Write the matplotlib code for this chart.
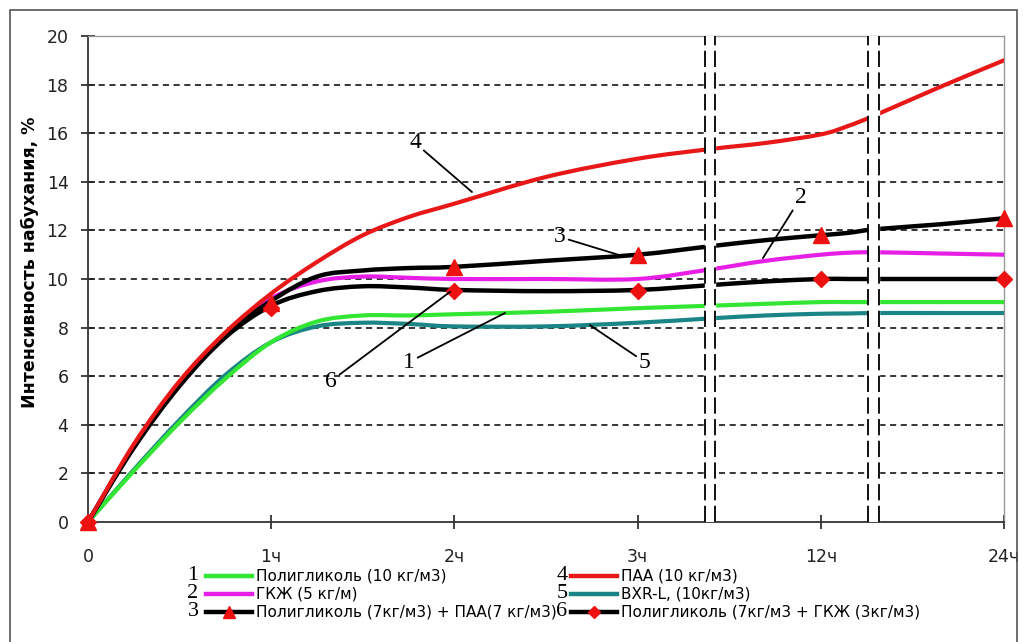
import matplotlib.pyplot as plt
from matplotlib.lines import Line2D
from matplotlib.patches import Rectangle, PathPatch
from matplotlib.path import Path

W, H = 1024, 642

tick_labels = ["0", "1ч", "2ч", "3ч", "12ч", "24ч"]

# points, x in category units (0 = start, 5 = 24ч)
x_read = [0, 0.25, 0.5, 0.75, 1, 1.25, 1.5, 1.75, 2, 2.5, 3, 3.4, 3.7, 4, 4.15, 4.3, 4.65, 5]

poly = [0, 2.1, 4.1, 5.9, 7.4, 8.25, 8.5, 8.5, 8.55, 8.65, 8.8, 8.9, 8.98, 9.05, 9.05, 9.05, 9.05, 9.05]
gkzh = [0, 3.15, 5.7, 7.75, 9.2, 9.9, 10.1, 10.05, 10.0, 10.0, 10.0, 10.4, 10.75, 11.0, 11.08, 11.1, 11.05, 11.0]
poly_paa = [0, 3.1, 5.65, 7.7, 9.1, 10.1, 10.35, 10.45, 10.5, 10.75, 11.0, 11.35, 11.6, 11.8, 11.9, 12.05, 12.25, 12.5]
paa = [0, 3.2, 5.8, 7.8, 9.4, 10.7, 11.8, 12.55, 13.1, 14.2, 14.95, 15.35, 15.6, 15.95, 16.3, 16.75, 17.9, 19.0]
bxr = [0, 2.15, 4.2, 6.05, 7.4, 8.05, 8.2, 8.15, 8.05, 8.05, 8.2, 8.38, 8.5, 8.57, 8.58, 8.6, 8.6, 8.6]
poly_gkzh = [0, 3.05, 5.6, 7.6, 8.9, 9.5, 9.7, 9.65, 9.55, 9.5, 9.55, 9.75, 9.9, 10.0, 10.0, 10.0, 10.0, 10.0]

# measured points shown with markers
marker_x = [0, 1, 2, 3, 4, 5]
poly_paa_pts = [0, 9.0, 10.5, 11.0, 11.8, 12.5]
poly_gkzh_pts = [0, 8.8, 9.5, 9.5, 10.0, 10.0]

labels = [
    "Полигликоль (10 кг/м3)",
    "ГКЖ (5 кг/м)",
    "Полигликоль (7кг/м3) + ПАА(7 кг/м3)",
    "ПАА (10 кг/м3)",
    "BXR-L, (10кг/м3)",
    "Полигликоль (7кг/м3 + ГКЖ (3кг/м3)",
]
colors = ["#33e633", "#e61ee6", "black", "#e81818", "#1b8585", "black"]
mark_red = "#ee1111"

plt.rcParams["font.family"] = "DejaVu Sans"
serif = ["Liberation Serif", "DejaVu Serif"]


def smooth_path(xs, ys):
    # smoothed line like the spreadsheet draws it: a bezier through every read point
    pts = list(zip(xs, ys))
    n = len(pts)
    verts = [pts[0]]
    codes = [Path.MOVETO]
    for i in range(n - 1):
        p0 = pts[max(i - 1, 0)]
        p1 = pts[i]
        p2 = pts[i + 1]
        p3 = pts[min(i + 2, n - 1)]
        c1 = (p1[0] + (p2[0] - p0[0]) / 6, p1[1] + (p2[1] - p0[1]) / 6)
        c2 = (p2[0] - (p3[0] - p1[0]) / 6, p2[1] - (p3[1] - p1[1]) / 6)
        verts += [c1, c2, p2]
        codes += [Path.CURVE4] * 3
    return Path(verts, codes)


fig = plt.figure(figsize=(W / 100, H / 100), dpi=100)
ax = fig.add_axes([88 / W, 1 - 522 / H, (1004 - 88) / W, (522 - 36) / H])

for ys, c, lw, z in [(bxr, colors[4], 3, 3), (poly, colors[0], 3, 3), (gkzh, colors[1], 3, 3),
                     (poly_gkzh, "black", 3.2, 4), (poly_paa, "black", 3.2, 4),
                     (paa, colors[3], 3, 4)]:
    ax.add_patch(PathPatch(smooth_path(x_read, ys), fill=False, edgecolor=c, lw=lw,
                           zorder=z, capstyle="round", joinstyle="round"))

ax.plot(marker_x, poly_paa_pts, ls="none", marker="^", ms=11, color=mark_red,
        zorder=7, clip_on=False)
ax.plot(marker_x, poly_gkzh_pts, ls="none", marker="D", ms=8, color=mark_red,
        zorder=7, clip_on=False)

ax.set_xlim(0, 5)
ax.set_ylim(0, 20)
ax.hlines(range(2, 20, 2), 0, 5, colors="black", lw=1.1, linestyles=(0, (4, 3)), zorder=1)

# axis breaks
for a, b in [(3.37, 3.42), (4.26, 4.32)]:
    ax.axvspan(a, b, color="white", zorder=5)
    for xb in (a, b):
        ax.axvline(xb, color="black", lw=1.3, ls=(0, (9, 3)), zorder=6)

ax.set_xticks(range(6))
ax.set_xticklabels(tick_labels)
ax.set_yticks(range(0, 21, 2))
ax.tick_params(direction="inout", length=10, width=1.2, colors="#222", labelsize=12.5)
ax.tick_params(axis="x", pad=14)
ax.tick_params(axis="y", pad=9)
for side in ["left", "bottom"]:
    ax.spines[side].set_color("#333")
    ax.spines[side].set_linewidth(1.3)
for side in ["top", "right"]:
    ax.spines[side].set_color("#999")
    ax.spines[side].set_linewidth(1.0)

ax.set_ylabel("Интенсивность набухания, %", fontsize=12.5, fontweight="bold")
ax.yaxis.set_label_coords(-0.053, 0.535)

# curve numbers
notes = [
    ("4", (1.785, 15.6), (2.096, 13.58)),
    ("3", (2.576, 11.73), (2.915, 10.95)),
    ("2", (3.892, 13.37), (3.684, 10.86)),
    ("1", (1.752, 6.58), (2.276, 8.6)),
    ("5", (3.04, 6.58), (2.74, 8.1)),
    ("6", (1.326, 5.8), (1.976, 9.47)),
]
for num, txt, end in notes:
    ax.annotate(num, xy=end, xytext=txt, ha="center", va="center", fontsize=17,
                family=serif, zorder=8,
                arrowprops=dict(arrowstyle="-", lw=1.3, color="black", shrinkA=0, shrinkB=0))


def fpos(x, y):
    return x / W, 1 - y / H


# legend, drawn by hand in pixel positions
rows = [576, 594, 612]
cols = [(193, 206, 252, 256), (562, 571, 617, 621)]
mk = [None, None, "^", None, None, "D"]
for i in range(6):
    nx, l0, l1, tx = cols[i // 3]
    y = rows[i % 3]
    fig.text(*fpos(nx, y), str(i + 1), fontsize=16, family=serif, ha="center", va="center")
    (x0, y0), (x1, _) = fpos(l0, y), fpos(l1, y)
    fig.add_artist(Line2D([x0, x1], [y0, y0], color=colors[i], lw=3.2))
    if mk[i]:
        fig.add_artist(Line2D([(x0 + x1) / 2], [y0], marker=mk[i], ms=9 if mk[i] == "^" else 6,
                              color=mark_red, ls="none"))
    fig.text(*fpos(tx, y), labels[i], fontsize=11, ha="left", va="center")

fig.add_artist(Rectangle(fpos(10, 660), 1007 / W, 650 / H, transform=fig.transFigure,
                         fill=False, edgecolor="#555", lw=1.2))

plt.savefig("out.png", dpi=100)
plt.close(fig)
